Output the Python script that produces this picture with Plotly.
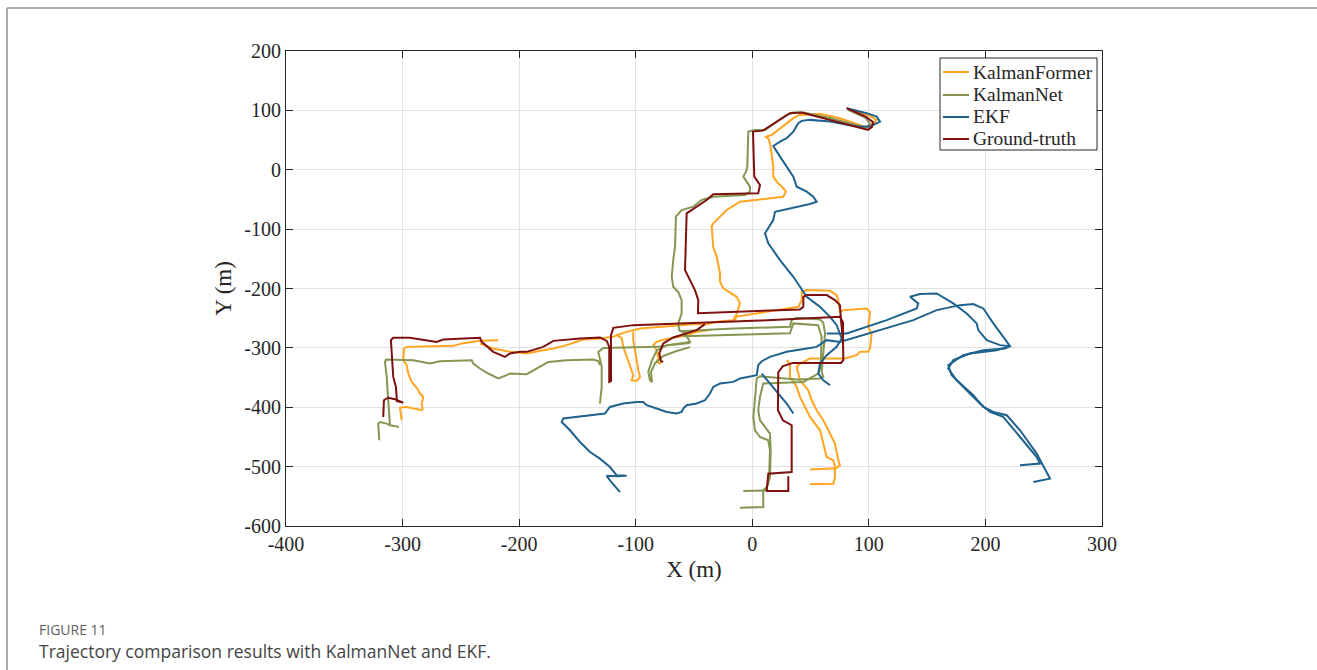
import plotly.graph_objects as go

# ---------------- data (metres) ----------------
x_ticks = [-400, -300, -200, -100, 0, 100, 200, 300]
y_ticks = [-600, -500, -400, -300, -200, -100, 0, 100, 200]
x_tick_text = ["-400", "-300", "-200", "-100", "0", "100", "200", "300"]
y_tick_text = ["-600", "-500", "-400", "-300", "-200", "-100", "0", "100", "200"]

series_names = ["KalmanFormer", "KalmanNet", "EKF", "Ground-truth"]

# KalmanFormer (segments separated by None)
kf_x = [83.8, 101, 106.6, 104.4, 99.3, 75.2, 58.1, 40.9, 35.2, 28.1, 22, 16.9, 10.9, 13.7, 15.2, 16.6, 18, 18, 20.9, 26.6, 28.9, 26.6, -10.6, -22, -33.5, -34.8, -33.5, -30.5, -27.7, -27.7, -24.9, -13.4, -10.6, -13.4, -14.8, None,
        -300.8, -301.6, -302.2, -296.5, -290.8, -283.6, -282.8, -283.6, -282.2, -285.1, -287.4, -292.2, -295.1, -296.5, -299.4, -298.8, -296.5, -256.5, -249.3, -233.6, -217.9, None,
        -233.6, -222.2, -207.9, -193.5, -179.3, -170.7, -159.2, -145, -130.7, -119.2, -116.3, -107.8, -96.3, -73.4, -50.6, -39.1, -30.5, -16.3, -14.8, 39.5, 42.4, 42.4, 46.7, 66.7, 72.4, 73.8, 75.2, 78.1, 98.1, 101, 99.5, 102.4, 101, 99.5, 92.4, 89.6, 79.5, 49.5, 40.9, 38.1, 40.9, 48, 51, 55.2, 60.9, 66.7, 70.9, 73.8, 75.2, 71.8, 49.5, None,
        29.5, 32.3, 32.3, 38.1, 40.9, 43.8, 49.5, 58.1, 60.9, 63.8, 69.5, 70.9, 70.9, 69.5, 49.5, None,
        -116.3, -112, -110.7, -107.8, -104.9, -102.1, -103.5, -99.2, -96.3, -97.8, -99.2, -100.6, -102.1, -102.1, None,
        -77.7, -79.2, -82, -80.6, -82, -84.9, -82, -76.4, -67.8, -56.3, -47.7, -36.3]
kf_y = [100.8, 90.7, 84, 77.2, 70.5, 86.8, 94.1, 92.4, 86.8, 75.5, 65.4, 58.7, 55.3, 53.1, 44.7, 25, 5.2, -11.6, -20.1, -31.2, -36.9, -45.4, -53.8, -67.8, -90.2, -96, -129.7, -146.5, -174.5, -188.7, -199.8, -214, -225.1, -242, -253.3, None,
        -421.9, -405, -400.5, -399.5, -402.2, -405, -402.2, -393.7, -382.6, -376.9, -368.5, -357.3, -343.2, -329.2, -320.7, -301, -298.3, -296.6, -292.6, -288.2, -287, None,
        -292.6, -301, -306.7, -309.4, -303.9, -301, -295.4, -285.8, -284.1, -281.4, -278.6, -273, -267.3, -263.4, -260, -260, -256.1, -253.3, -247.7, -230.9, -219.6, -205.6, -202.7, -203.9, -211.1, -219.6, -239.3, -236.4, -233.6, -239.3, -264.6, -275.7, -301, -306.7, -306.7, -312.3, -317.9, -317.9, -326.3, -332, -354.5, -371.3, -388.2, -405, -421.9, -444.3, -461.2, -489.4, -497.8, -502.8, -505, None,
        -320.7, -326.3, -348.9, -365.8, -382.6, -393.7, -416.3, -438.8, -461.2, -483.8, -489.4, -500.7, -517.5, -528.7, -529.8, None,
        -278.6, -283.6, -298.3, -315.2, -332, -346, -354.5, -355.6, -348.9, -337.6, -320.7, -303.9, -287, -273, None,
        -320.7, -326.3, -323.6, -317.9, -303.9, -295.4, -289.9, -286.2, -282.8, -278.6, -273, -270.1]

# KalmanNet
kn_x = [82.1, 97.5, 101, 97.5, 66.7, 43.8, 35.2, 29.5, 20.9, 10.9, 2.3, -3.4, -4.3, -5.4, -7.7, -4.8, -2, -2, -6.3, -33.5, -39.1, -43.4, -50.6, -60.6, -65.5, -66.3, -67.8, -69.1, -67.8, -63.5, -60.6, -60.6, -63.5, -62.6, -57.7, -53.4, -62, -82, -127.8, -132.1, -129.2, -129.2, -130.7, None,
        -303.1, -310.8, -312.3, -313.6, -315.1, -314.2, -290.8, -276.5, -267.9, -240.7, -239.4, -233.6, -226.5, -217.9, -210.7, -207.9, -193.5, -179.3, -175, -159.2, -136.4, -132.1, -130.7, None,
        -310.8, -313.6, -319.4, -320.9, -320, None,
        -53.4, -73.2, -81.8, -86, -89.2, -87.8, -86, -86.9, -83.5, -76.6, -65.5, -53.4, None,
        -62.6, -44.9, -16.3, 32.3, 33.8, 38.1, 58.1, 60.9, 62.4, 60.9, 59.5, 60.9, 58.1, 38.1, 15.2, 6.6, 3.8, 2.3, 0.9, 2.3, 6.6, 13.7, 15.2, 14.6, 13.7, 10.9, -7.7, None,
        -59.5, -27.7, 32.3, 35.2, 56.4, 59.5, 58.7, 56.6, 43.8, 9.4, 6.6, 5.1, 6.6, 10.9, 15.2, 15.8, 15.2, 12.4, 9.4, 9.4, -10.6]
kn_y = [100.8, 87.3, 77.2, 70.5, 87.3, 96.3, 96.3, 92.4, 81.1, 67.1, 67.1, 64.2, 5.2, -3.2, -11.6, -20.1, -28.5, -36.9, -42.5, -45.4, -48.1, -50.9, -62.2, -67.8, -79.1, -129.7, -152.1, -180.3, -197.1, -206.1, -219.6, -242, -258.8, -270.1, -275.2, -289.9, -292.6, -298.3, -300, -306.7, -332, -365.8, -393.7, None,
        -433.2, -430.3, -388.2, -348.9, -323.6, -319.6, -320.7, -326.3, -322.4, -320.7, -326.3, -334.7, -343.2, -351.6, -346, -343.2, -344.3, -329.2, -323.6, -320.7, -319.6, -322.4, -329.2, None,
        -430.3, -427.5, -424.8, -427.5, -455.6, None,
        -291.9, -295.4, -303.9, -320.7, -340.5, -354.5, -357.3, -341, -325.8, -314, -305.6, -298.8, None,
        -271.8, -270.1, -267.3, -264.6, -253.3, -249.4, -252.1, -257.8, -275.7, -309.4, -340.5, -348.9, -351.6, -353.3, -348.9, -347.7, -351.6, -388.2, -416.3, -438.8, -450.1, -455.6, -472.5, -506.2, -528.7, -540, -541.1, None,
        -280.3, -278.6, -275.2, -258.8, -261.7, -281.4, -332, -343.2, -357.3, -360, -382.6, -405, -421.9, -433.2, -444.3, -472.5, -517.5, -534.4, -540, -568.1, -569.1]

# EKF
ekf_x = [81, 98.1, 106.7, 109.6, 101, 89.6, 66.7, 49.5, 42.4, 39.5, 35.2, 29.5, 23.8, 18, 23.8, 29.5, 35.2, 38.1, 46.7, 52.3, 55.2, 49.5, 23.8, 19.5, 18, 10.9, 13.7, 23.8, 35.2, 40.9, 46.7, 58.1, 66.7, 72.4, 75.2, 76.7, 72.4, 63.8, 58.1, 56.6, 60.9, 66.7, None,
         63.8, 81, 115.3, 141, 142.4, 135.3, 143.9, 158.2, 172.4, 183.9, 192.5, 193.9, 201.1, 212.5, 221.1, 216.8, 198.2, 181, 168.1, 171.1, 183.9, 195.3, 203.9, 215.3, 229.7, 244, 246.8, 229.7, None,
         241.1, 255.4, 244, 229.7, 218.3, 206.8, 198.2, 189.6, 175.4, 168.1, 172.4, 186.8, 209.7, 221.1, 215.3, 206.8, 198.2, 189.6, 178.2, 158.2, 138.1, 95.2, 75.2, 63.8, 55.2, 46.7, 29.5, 15.2, 8.1, 5.1, 3.8, -10.6, -16.3, -27.7, -33.5, -36.3, -40.6, -47.7, -56.3, -59.2, -60.6, -64.9, -73.4, -82, -90.6, -93.5, -99.2, -110.7, -122.1, -126.4, -139.2, -162.1, -163.5, -156.4, -147.8, -139.2, -130.7, -122.1, -116.3, -107.8, -116.3, -124.9, -122.1, -113.5, None,
         8.1, 18, 29.5, 35.2]
ekf_y = [103.7, 95.3, 89.5, 81.1, 72.7, 72.7, 81.1, 84, 82.3, 78.4, 64.2, 53.1, 47.4, 40.1, 22.1, 5.2, -11.6, -28.5, -36.9, -45.4, -53.8, -57.7, -67.8, -70.7, -84.7, -107.1, -123.9, -152.1, -180.3, -197.1, -214, -230.9, -247.7, -261.7, -275.2, -284.1, -298.3, -312.3, -326.3, -343.2, -354.5, -362.9, None,
         -275.7, -275.7, -253.3, -233.6, -225.1, -214, -209.4, -208.3, -225.1, -242, -258.8, -270.1, -287, -295.4, -297.1, -301, -303.9, -312.3, -329.2, -346, -371.3, -393.7, -407.9, -416.3, -450.1, -483.8, -494.9, -497.8, None,
         -526, -520.2, -478.1, -438.8, -413.5, -407.9, -399.5, -379.8, -354.5, -334.7, -320.7, -309.4, -303.9, -297.1, -281.4, -258.8, -233.6, -226.3, -228, -236.4, -253.3, -278.6, -289.9, -287, -298.3, -301, -306.7, -315.2, -322.5, -329.2, -346, -351.6, -357.3, -360, -365.8, -376.9, -388.2, -393.7, -396.6, -402.2, -407.9, -410.6, -407.9, -402.2, -396.6, -391.1, -391.1, -393.7, -399.5, -410.6, -413.5, -419, -424.8, -438.8, -458.5, -475.4, -486.5, -500.7, -514.7, -515.5, -516, -515.5, -523.1, -542.8, None,
         -343.2, -365.8, -393.7, -410.6]

# Ground-truth
gt_x = [81, 97.5, 103.5, 102.7, 99.3, 42.4, 32.3, 9.2, 0.6, 1.7, 6.6, 5.1, -33.5, -39.1, -56.3, -57.7, -49.2, -46.3, -46.6, 40.9, 43.8, 43.8, 46.7, 63.8, 70.9, 75.2, 76.1, 77.8, 78.1, 76.1, 34.9, 26.3, 22.3, 22, 26.3, 33.8, 33.8, 13.7, 12.4, 30.9, 30.9, None,
        -316.6, -316, -312.5, -306.5, -299.4, -304.8, -305.7, -308, -310, -308, -293.7, -270.8, -265.1, -233.6, -232.1, -222.2, -212.2, -207.9, -199.3, -193.5, -179.3, -170.7, -147.8, -130.7, -124.9, -122.7, -122.7, -121.2, -121.2, -119.2, -102.1, -44.9, 6.6, 75.2, 77.8, 77.8, None,
        -76.4, -78.3, -79.8, -76.4, -67.8, -56.3, -47.7, -40.6]
gt_y = [103.7, 89, 80.6, 72.2, 67.1, 96.3, 95.3, 65.9, 64.2, -11.6, -25.6, -39.6, -41.3, -50.9, -73.4, -169, -202.7, -219.6, -241.5, -235.2, -230.9, -214, -211.1, -211.1, -219.6, -228, -253.3, -287, -320.7, -325.3, -325.3, -330.8, -341, -405, -421.9, -430.3, -509.1, -511.8, -541.1, -541.1, -516.3, None,
        -416.3, -388.2, -384, -386.5, -392.1, -389.9, -365.8, -348.9, -287, -283.1, -283.1, -289.9, -285.8, -283.1, -289.9, -306.7, -315.2, -309.4, -306.7, -306.7, -298.3, -288.2, -284.1, -282.5, -288.2, -298.3, -357.3, -356.1, -278.6, -266.3, -261.7, -258.3, -254.1, -247.7, -256.7, -287, None,
        -323.6, -322.4, -309.4, -292.6, -282.5, -274.7, -270.1, -260]

colors = ["#FFA520", "#849652", "#20628E", "#7E1010"]

# ---------------- figure ----------------
W, H = 1317, 670
L, R, T, B = 286, 215, 51, 144
pw, ph = W - L - R, H - T - B


def px_to_paper_x(px):
    return (px - L) / pw


def px_to_paper_y(py):
    return (H - B - py) / ph


fig = go.Figure()
for name, xs, ys, col in zip(series_names, [kf_x, kn_x, ekf_x, gt_x], [kf_y, kn_y, ekf_y, gt_y], colors):
    fig.add_trace(go.Scatter(x=xs, y=ys, mode="lines", name=name, showlegend=False,
                             line=dict(color=col, width=2), connectgaps=False))

serif = "Liberation Serif, Times New Roman, serif"
ink = "#262626"
axis_common = dict(showline=True, linecolor=ink, linewidth=1, mirror="ticks",
                   ticks="inside", ticklen=7, tickcolor=ink, tickwidth=1,
                   showgrid=True, gridcolor="#E3E3E3", gridwidth=1, zeroline=False,
                   tickfont=dict(family=serif, size=20, color=ink))

fig.update_layout(
    width=W, height=H, autosize=False,
    margin=dict(l=L, r=R, t=T, b=B),
    paper_bgcolor="white", plot_bgcolor="white",
    xaxis=dict(range=[-400, 300], tickvals=x_ticks, ticktext=x_tick_text,
               title=dict(text="X (m)", font=dict(family=serif, size=23, color=ink), standoff=6),
               **axis_common),
    yaxis=dict(range=[-600, 200], tickvals=y_ticks, ticktext=y_tick_text,
               title=dict(text="Y (m)", font=dict(family=serif, size=23, color=ink), standoff=6),
               **axis_common),
    showlegend=False,
)

# legend box (MATLAB style: compact, short line samples)
fig.add_shape(type="rect", xref="paper", yref="paper",
              x0=px_to_paper_x(940), x1=px_to_paper_x(1097), y0=px_to_paper_y(150), y1=px_to_paper_y(58),
              line=dict(color=ink, width=1), fillcolor="white", layer="above")
legend_rows = [72, 95, 117, 139]
for name, col, row in zip(series_names, colors, legend_rows):
    fig.add_shape(type="line", xref="paper", yref="paper",
                  x0=px_to_paper_x(943), x1=px_to_paper_x(969), y0=px_to_paper_y(row), y1=px_to_paper_y(row),
                  line=dict(color=col, width=2), layer="above")
    fig.add_annotation(text=name, xref="paper", yref="paper",
                       x=px_to_paper_x(971), y=px_to_paper_y(row), xanchor="left", yanchor="middle",
                       showarrow=False, font=dict(family=serif, size=19.5, color=ink))

# page frame and caption
fig.add_shape(type="line", xref="paper", yref="paper",
              x0=px_to_paper_x(7), x1=px_to_paper_x(1317), y0=px_to_paper_y(8), y1=px_to_paper_y(8),
              line=dict(color="#8F8F8F", width=1.5))
fig.add_shape(type="line", xref="paper", yref="paper",
              x0=px_to_paper_x(7), x1=px_to_paper_x(7), y0=px_to_paper_y(8), y1=px_to_paper_y(670),
              line=dict(color="#8F8F8F", width=1.5))
fig.add_annotation(text="FIGURE 11", xref="paper", yref="paper",
                   x=px_to_paper_x(37), y=px_to_paper_y(629), xanchor="left", yanchor="middle",
                   showarrow=False, font=dict(family="Open Sans, sans-serif", size=14, color="#5E5E5E"))
fig.add_annotation(text="Trajectory comparison results with KalmanNet and EKF.", xref="paper", yref="paper",
                   x=px_to_paper_x(37), y=px_to_paper_y(651), xanchor="left", yanchor="middle",
                   showarrow=False, font=dict(family="Open Sans, sans-serif", size=17.5, color="#444444"))

fig.write_html("out.html")
